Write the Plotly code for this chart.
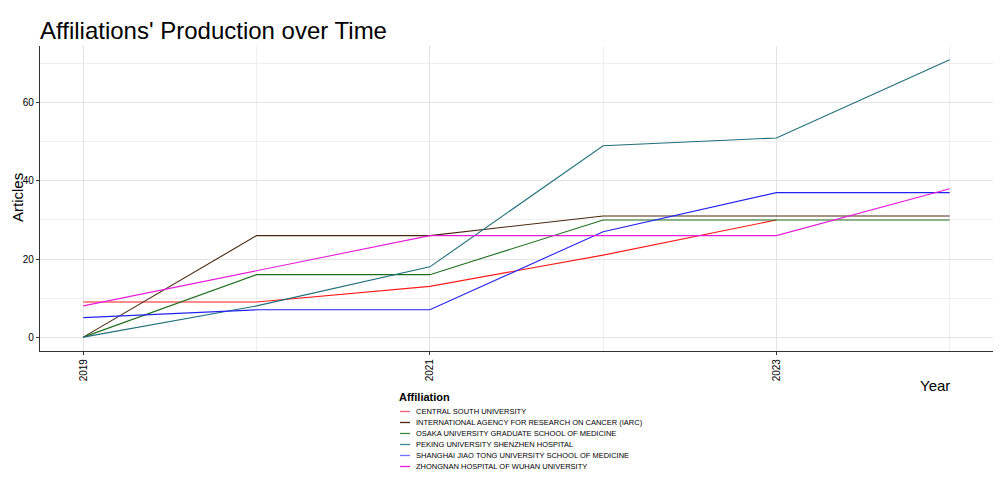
import plotly.graph_objects as go

years = [2019, 2020, 2021, 2022, 2023, 2024]
affiliations = [
    "CENTRAL SOUTH UNIVERSITY",
    "INTERNATIONAL AGENCY FOR RESEARCH ON CANCER (IARC)",
    "OSAKA UNIVERSITY GRADUATE SCHOOL OF MEDICINE",
    "PEKING UNIVERSITY SHENZHEN HOSPITAL",
    "SHANGHAI JIAO TONG UNIVERSITY SCHOOL OF MEDICINE",
    "ZHONGNAN HOSPITAL OF WUHAN UNIVERSITY",
]
central_south = [9, 9, 13, 21, 30, None]
iarc = [0, 26, 26, 31, 31, 31]
osaka = [0, 16, 16, 30, 30, 30]
peking = [0, 8, 18, 49, 51, 71]
shanghai = [5, 7, 7, 27, 37, 37]
zhongnan = [8, 17, 26, 26, 26, 38]
series = [central_south, iarc, osaka, peking, shanghai, zhongnan]
colors = ["#FF1A1A", "#4A2810", "#1E6E1E", "#1F6E7A", "#2323F0", "#E61CD8"]
legend_key_colors = ["#F0607A", "#4A2810", "#3C8A3C", "#3C8A96", "#7070FF", "#E61CD8"]

OFF = 8  # page body margin
W, H = 1004 - OFF, 495 - OFF
L, R, T, B = 40 - OFF, 993 - OFF, 46 - OFF, 351 - OFF


def px_x(p):
    return (p - OFF - L) / (R - L)


def px_y(p):
    return (B - (p - OFF)) / (B - T)


fig = go.Figure()
for name, vals, col in zip(affiliations, series, colors):
    xs = [y for y, v in zip(years, vals) if v is not None]
    ys = [v for v in vals if v is not None]
    fig.add_trace(go.Scatter(x=xs, y=ys, mode="lines", name=name,
                             line=dict(color=col, width=1.1), showlegend=False))

font = "Liberation Sans, Arial, sans-serif"
annotations = [
    dict(text="Year", xref="paper", yref="paper", x=px_x(935), y=px_y(386),
         showarrow=False, font=dict(size=15, color="black", family=font),
         xanchor="center", yanchor="middle"),
    dict(text="Articles", xref="paper", yref="paper", x=px_x(17), y=px_y(198),
         showarrow=False, textangle=-90, font=dict(size=15, color="black", family=font),
         xanchor="center", yanchor="middle"),
    dict(text="<b>Affiliation</b>", xref="paper", yref="paper", x=px_x(397), y=px_y(397),
         showarrow=False, font=dict(size=11, color="black", family=font),
         xanchor="left", yanchor="middle"),
]
shapes = []
for i, (name, col) in enumerate(zip(affiliations, legend_key_colors)):
    yc = 411.5 + i * 11
    annotations.append(dict(text=name, xref="paper", yref="paper", x=px_x(414), y=px_y(yc),
                            showarrow=False, font=dict(size=7.5, color="black", family=font),
                            xanchor="left", yanchor="middle"))
    shapes.append(dict(type="line", xref="paper", yref="paper",
                       x0=px_x(400), x1=px_x(410), y0=px_y(yc), y1=px_y(yc),
                       line=dict(color=col, width=1.3)))

fig.update_layout(
    width=W, height=H,
    margin=dict(l=L, r=W - R, t=T, b=H - B, autoexpand=False),
    paper_bgcolor="white", plot_bgcolor="white",
    title=dict(text="Affiliations' Production over Time", x=0, xref="paper",
               xanchor="left", y=1 - (31 - OFF) / H, yanchor="middle",
               font=dict(size=24, color="black", family=font)),
    annotations=annotations, shapes=shapes,
    font=dict(family=font),
)
fig.update_xaxes(range=[2018.75, 2024.25], tickvals=[2019, 2021, 2023],
                 ticktext=["2019", "2021", "2023"], tickangle=-90, automargin=False,
                 showgrid=True, gridcolor="#E3E3E3", gridwidth=1,
                 minor=dict(tickvals=[2020, 2022, 2024], showgrid=True, gridcolor="#EFEFEF", gridwidth=1),
                 showline=True, linecolor="#333333", linewidth=1.2,
                 ticks="outside", ticklen=3, tickcolor="#333333",
                 tickfont=dict(size=10, color="black", family=font), zeroline=False)
fig.update_yaxes(range=[-3.55, 74.55], tickvals=[0, 20, 40, 60], automargin=False,
                 showgrid=True, gridcolor="#E3E3E3", gridwidth=1,
                 minor=dict(tickvals=[10, 30, 50, 70], showgrid=True, gridcolor="#EFEFEF", gridwidth=1),
                 showline=True, linecolor="#333333", linewidth=1.2,
                 ticks="outside", ticklen=3, tickcolor="#333333",
                 tickfont=dict(size=10, color="black", family=font), zeroline=False)

fig.write_html("out.html")
